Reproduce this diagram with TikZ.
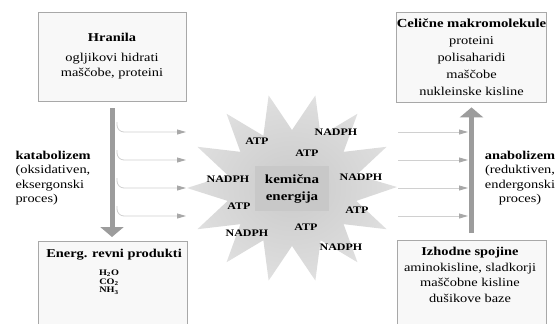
\documentclass[tikz,border=0pt]{standalone}
\usepackage{fontspec}
\setmainfont{Liberation Serif}[FakeStretch=1.2, BoldFeatures={FakeStretch=1.2}]
\usetikzlibrary{arrows.meta}
\definecolor{boxfill}{HTML}{F8F8F8}
\definecolor{boxline}{HTML}{A8A8A8}
\definecolor{bigarr}{HTML}{9C9C9C}
\definecolor{thinline}{HTML}{D0D0D0}
\definecolor{thintip}{HTML}{A8A8A8}
\definecolor{centerfill}{HTML}{C8C8C8}
\definecolor{starin}{HTML}{CACACA}
\definecolor{starmid}{HTML}{DCDCDC}
\definecolor{starout}{HTML}{F0F0F0}
\pgfdeclareradialshading{starshade}{\pgfpoint{0bp}{0bp}}{color(0bp)=(starin); color(22bp)=(starmid); color(36bp)=(starout); color(47bp)=(white); color(50bp)=(white)}
\begin{document}
\begin{tikzpicture}[x=1pt,y=-1pt,
  box/.style={draw=boxline, line width=0.8pt, fill=boxfill, align=center, inner sep=0pt},
  txt/.style={font=\fontsize{12}{15}\selectfont, align=center},
  ttl/.style={font=\fontsize{12}{15}\selectfont\bfseries},
  mol/.style={font=\fontsize{10}{12}\selectfont\bfseries, inner sep=0pt},
  smallmol/.style={font=\fontsize{8.5}{8.7}\selectfont\bfseries, align=center, inner sep=0pt},
  bigarrow/.style={draw=bigarr, line width=5pt, -{Triangle[length=10pt,width=23pt]}},
  thinarrow/.style={draw=thinline, line width=0.8pt, -{Triangle[length=9pt,width=5pt,color=thintip]}, rounded corners=7pt}
]
\useasboundingbox (0,0) rectangle (560,324);

% star
\shade[shading=starshade] (397,187) \foreach \i in {1,...,27} { -- ({292+ifthenelse(isodd(\i),66,105)*cos(\i*360/28)}, {188+ifthenelse(isodd(\i),58,95)*sin(\i*360/28)}) } -- cycle;

% boxes
\node[box, txt, minimum width=148pt, minimum height=89pt] (hranila) at (112,56.5)
  {\textbf{Hranila}\\[5pt]ogljikovi hidrati\\maščobe, proteini};
\node[box, minimum width=149pt, minimum height=90pt, font=\fontsize{12}{17}\selectfont] (celicne) at (471.5,57)
  {\textbf{\fontsize{12.3}{17}\selectfont Celične makromolekule}\\proteini\\polisaharidi\\maščobe\\nukleinske kisline};
\node[box, anchor=north, minimum width=149pt, minimum height=100pt] (energ) at (112.5,241) {};
\node[ttl] (energt) at (114,255) {Energ. revni produkti};
\node[smallmol] (mols) at (109,282) {H\textsubscript{2}O\\CO\textsubscript{2}\\NH\textsubscript{3}};
\node[box, anchor=north, minimum width=149pt, minimum height=100pt] (izhod) at (471.5,240) {};
\node[txt, font=\fontsize{12}{15.5}\selectfont] (izhodt) at (470,275)
  {\textbf{Izhodne spojine}\\aminokisline, sladkorji\\maščobne kisline\\dušikove baze};

% side labels
\node[txt, align=left, anchor=west, font=\fontsize{12}{14.5}\selectfont] (kata) at (12,178)
  {\textbf{katabolizem}\\(oksidativen,\\eksergonski\\proces)};
\node[txt, font=\fontsize{12}{14.5}\selectfont] (ana) at (520,178)
  {\textbf{anabolizem}\\(reduktiven,\\endergonski\\proces)};

% big arrows
\draw[bigarrow, shorten <=7pt, shorten >=4pt] (hranila.south) -- (hranila.south |- energ.north);
\draw[bigarrow, shorten <=7pt, shorten >=5pt] (izhod.north) -- (izhod.north |- celicne.south);

% thin arrows
\foreach \y [count=\k] in {132,160,188,216} {
  \coordinate (ls\k) at (117,\y-10);
  \coordinate (le\k) at (186,\y);
  \draw[thinarrow] (ls\k) |- (le\k);
  \coordinate (rs\k) at (398,\y);
  \coordinate (re\k) at (468,\y);
  \draw[thinarrow] (rs\k) -- (re\k);
}

% centre
\node[fill=centerfill, minimum width=74pt, minimum height=45pt, align=center,
  font=\fontsize{12.5}{17}\selectfont\bfseries] (energy) at (292,188.5) {kemična\\energija};

\node[mol] (a1) at (257,141) {ATP};
\node[mol] (n1) at (336,132) {NADPH};
\node[mol] (a2) at (307,153) {ATP};
\node[mol] (n2) at (228,179) {NADPH};
\node[mol] (n3) at (361,177) {NADPH};
\node[mol] (a3) at (239,206) {ATP};
\node[mol] (a4) at (357,210) {ATP};
\node[mol] (a5) at (306,227) {ATP};
\node[mol] (n4) at (247,233) {NADPH};
\node[mol] (n5) at (341,247) {NADPH};
\end{tikzpicture}
\end{document}
